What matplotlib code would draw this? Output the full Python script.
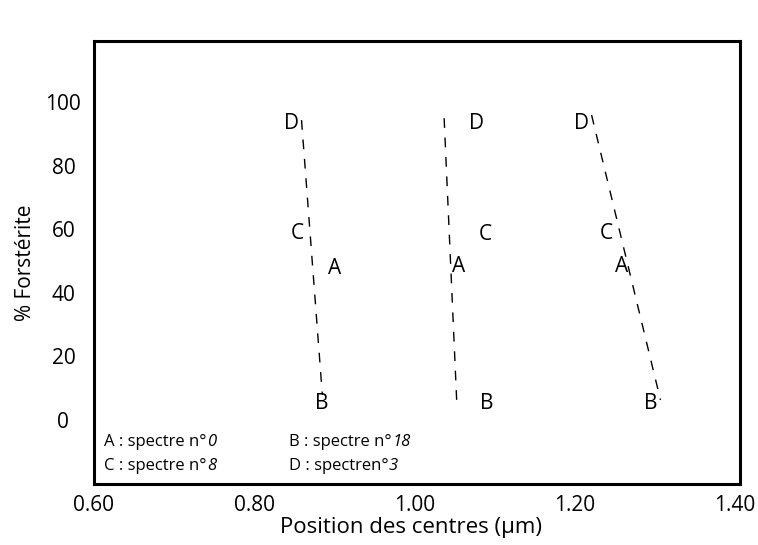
import matplotlib
matplotlib.use('Agg')
import matplotlib.pyplot as plt
from matplotlib import font_manager

plt.rcParams['font.family'] = ['Open Sans', 'DejaVu Sans']

# pick an italic face for the spectrum numbers
italic_family, italic_style = 'DejaVu Sans', 'oblique'
faces = [(f.name, f.style) for f in font_manager.fontManager.ttflist]
for fam in ['Open Sans', 'Noto Sans', 'Lato', 'Liberation Sans']:
	if (fam, 'italic') in faces:
		italic_family, italic_style = fam, 'italic'
		break

# dashed trend lines, one per band (top = D end, bottom = B end)
line_x_top = [0.859, 1.037, 1.221]
line_y_top = [94.3, 94.9, 95.9]
line_x_bot = [0.885, 1.053, 1.307]
line_y_bot = [7.9, 4.2, 6.3]

# point labels
point_names = ['D', 'C', 'A', 'B',
               'D', 'C', 'A', 'B',
               'D', 'C', 'A', 'B']
point_x = [0.846, 0.854, 0.900, 0.884,
           1.077, 1.089, 1.055, 1.090,
           1.208, 1.240, 1.259, 1.295]
point_y = [93.3, 58.7, 47.7, 5.2,
           93.3, 58.2, 48.2, 5.2,
           93.3, 58.7, 48.2, 5.2]

# legend text (upright part + italic spectrum number)
legend_texts = ['A : spectre n°', 'B : spectre n°', 'C : spectre n°', 'D : spectren°']
legend_nums = ['0', '18', '8', '3']
legend_x = [0.613, 0.844, 0.613, 0.844]
legend_y = [-6.8, -6.8, -14.5, -14.5]

x_ticks = [0.6, 0.8, 1.0, 1.2, 1.4]
x_tick_labels = ['0.60', '0.80', '1.00', '1.20', '1.40']
y_ticks = [0, 20, 40, 60, 80, 100]

fig = plt.figure(figsize=(7.58, 5.45), dpi=100)
ax = fig.add_axes([0.124, 0.112, 0.852, 0.813])

for i in range(len(line_x_top)):
	ax.plot([line_x_top[i], line_x_bot[i]], [line_y_top[i], line_y_bot[i]],
		color='black', lw=1.0, dashes=(7, 7))

for name, x, y in zip(point_names, point_x, point_y):
	ax.text(x, y, name, fontsize=15, ha='center', va='center')

for t, num, x, y in zip(legend_texts, legend_nums, legend_x, legend_y):
	txt = ax.text(x, y, t, fontsize=12, ha='left', va='center')
	ax.annotate(num, xy=(1, 0), xycoords=txt, ha='left', va='bottom',
		fontsize=12, family=italic_family, style=italic_style)

ax.set_xlim(0.6025, 1.406)
ax.set_ylim(-20.1, 119.2)
ax.set_xticks(x_ticks)
ax.set_xticklabels(x_tick_labels)
ax.set_yticks(y_ticks)
ax.tick_params(length=0, labelsize=15)
ax.tick_params(axis='x', pad=8)
ax.tick_params(axis='y', pad=22)
for lab in ax.get_yticklabels():
	lab.set_ha('center')

for s in ax.spines.values():
	s.set_linewidth(2.2)

ax.set_xlabel('Position des centres (µm)', fontsize=16)
ax.xaxis.set_label_coords(0.491, -0.075)
ax.set_ylabel('% Forstérite', fontsize=15)
ax.yaxis.set_label_coords(-0.09, 0.5)

fig.savefig('out.png', dpi=100)
